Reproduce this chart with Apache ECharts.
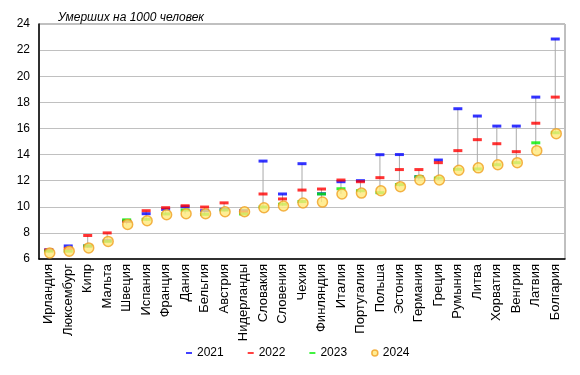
<!DOCTYPE html>
<html><head><meta charset="utf-8">
<script src="https://cdn.jsdelivr.net/npm/echarts@6/dist/echarts.min.js"></script>
<style>html,body{margin:0;padding:0;background:#fff}#c{width:580px;height:375px}</style>
</head><body><div id="c"></div>
<script>
var countries = ['Ирландия','Люксембург','Кипр','Мальта','Швеция','Испания','Франция','Дания','Бельгия','Австрия','Нидерланды','Словакия','Словения','Чехия','Финляндия','Италия','Португалия','Польша','Эстония','Германия','Греция','Румыния','Литва','Хорватия','Венгрия','Латвия','Болгария'];
var v2021 = [6.7, 7.0, 7.0, 7.4, 8.9, 9.47, 9.8, 10.0, 9.7, 9.8, 9.7, 13.5, 10.98, 13.3, 11.0, 11.92, 12.0, 13.99, 14.0, 12.3, 13.58, 17.51, 16.95, 16.18, 16.18, 18.4, 22.85];
var v2022 = [6.69, 6.8, 7.8, 8.0, 8.9, 9.7, 9.93, 10.08, 9.98, 10.3, 9.6, 10.98, 10.6, 11.28, 11.36, 12.05, 11.92, 12.23, 12.85, 12.85, 13.38, 14.3, 15.14, 14.83, 14.22, 16.4, 18.4];
var v2023 = [6.6, 6.6, 7.0, 7.35, 9.0, 9.04, 9.45, 9.75, 9.42, 9.75, 9.45, 9.98, 10.2, 10.4, 10.98, 11.38, 11.23, 11.08, 11.7, 12.3, 12.2, 12.87, 12.9, 13.22, 13.38, 14.9, 15.67];
var v2024 = [6.46, 6.6, 6.85, 7.35, 8.65, 8.93, 9.39, 9.47, 9.47, 9.62, 9.62, 9.93, 10.06, 10.29, 10.36, 10.98, 11.05, 11.23, 11.54, 12.05, 12.05, 12.8, 12.98, 13.22, 13.38, 14.3, 15.6];
var yTicks = [6, 8, 10, 12, 14, 16, 18, 20, 22, 24];
var years = ['2021','2022','2023','2024'];

var rangeData = countries.map(function(c, i){
  var vals = [v2021[i], v2022[i], v2023[i], v2024[i]];
  return [i, Math.min.apply(null, vals), Math.max.apply(null, vals)];
});

var dashPath = 'path://M0,0h8v2.5h-8z';
var chart = echarts.init(document.getElementById('c'));
chart.setOption({
  animation: false,
  textStyle: {fontFamily: 'Liberation Sans, Arial, sans-serif'},
  title: {text: 'Умерших на 1000 человек', left: 53, top: 7,
    textStyle: {fontSize: 12, fontStyle: 'italic', fontWeight: 'normal', color: '#000'}},
  grid: {left: 39, right: 15, top: 24, bottom: 116, show: true, borderColor: '#808080', borderWidth: 1},
  legend: {
    bottom: 11, left: 181, itemGap: 24, itemWidth: 6, itemHeight: 6, itemStyle: {borderWidth: 0},
    textStyle: {fontSize: 12, color: '#000'},
    data: [
      {name: '2021', icon: dashPath},
      {name: '2022', icon: dashPath},
      {name: '2023', icon: dashPath},
      {name: '2024', icon: 'circle', itemStyle: {borderWidth: 1.5, borderColor: '#f0a020', color: '#ffe97a'}}
    ]
  },
  xAxis: {
    type: 'category', data: countries,
    axisLine: {lineStyle: {color: '#000', width: 1.5}},
    axisTick: {show: false},
    axisLabel: {rotate: 90, interval: 0, fontSize: 13, color: '#000', margin: 5}
  },
  yAxis: {
    type: 'value', min: 6, max: 24, interval: 2,
    axisLine: {show: true, lineStyle: {color: '#000', width: 1.5}},
    axisTick: {show: false},
    axisLabel: {fontSize: 12, color: '#000', margin: 9,
      formatter: function(v){ return yTicks.indexOf(v) >= 0 ? String(v) : ''; }},
    splitLine: {lineStyle: {color: '#c0c0c0', width: 1}}
  },
  series: [
    {
      type: 'custom', name: 'range', silent: true, z: 1,
      data: rangeData,
      renderItem: function(params, api){
        var p1 = api.coord([api.value(0), api.value(1)]);
        var p2 = api.coord([api.value(0), api.value(2)]);
        return {type: 'line', shape: {x1: p1[0], y1: p1[1], x2: p2[0], y2: p2[1]},
          style: {stroke: '#aaaaaa', lineWidth: 1}};
      }
    },
    {name: '2021', type: 'scatter', data: v2021, symbol: 'rect', symbolSize: [9, 3], z: 2,
      itemStyle: {color: '#0000ff'}},
    {name: '2022', type: 'scatter', data: v2022, symbol: 'rect', symbolSize: [9, 3], z: 3,
      itemStyle: {color: '#ff0000'}},
    {name: '2023', type: 'scatter', data: v2023, symbol: 'rect', symbolSize: [9, 3], z: 4,
      itemStyle: {color: '#00ee00'}},
    {name: '2024', type: 'scatter', data: v2024, symbol: 'circle', symbolSize: 10, symbolOffset: [1, 0], z: 5,
      itemStyle: {color: '#ffe97a', borderColor: '#f0a020', borderWidth: 1.5}}
  ]
});
</script>
</body></html>
